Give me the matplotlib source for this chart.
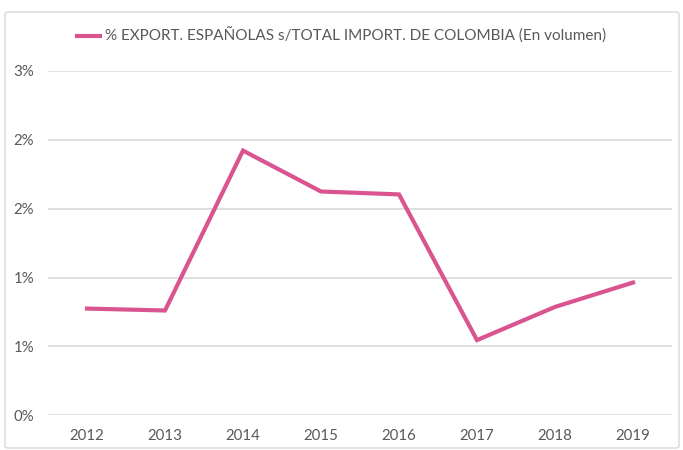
import matplotlib
matplotlib.use("Agg")
import matplotlib.pyplot as plt
from matplotlib.patches import FancyBboxPatch

# data
years = ["2012", "2013", "2014", "2015", "2016", "2017", "2018", "2019"]
share = [0.775, 0.761, 1.922, 1.625, 1.604, 0.546, 0.787, 0.964]  # in %
yticks = [0.0, 0.5, 1.0, 1.5, 2.0, 2.5]
ytick_labels = ["0%", "1%", "1%", "2%", "2%", "3%"]
label = "% EXPORT. ESPAÑOLAS s/TOTAL IMPORT. DE COLOMBIA (En volumen)"

plt.rcParams["font.family"] = ["Lato", "DejaVu Sans"]
txt = "#595959"

fig = plt.figure(figsize=(6.83, 4.5), dpi=100)
ax = fig.add_axes([48 / 683, 1 - 415.3 / 450, 624 / 683, 344.3 / 450])

x = range(len(years))
ax.plot(x, share, color="#DA5590", lw=3, solid_joinstyle="miter", label=label)

ax.set_xlim(-0.5, len(years) - 0.5)
ax.set_ylim(0, 2.5)
ax.set_xticks(list(x))
ax.set_xticklabels(years)
ax.set_yticks(yticks)
ax.set_yticklabels(ytick_labels)
ax.tick_params(length=0, labelsize=10.8, colors=txt, pad=10)
ax.tick_params(axis="y", pad=10)
ax.grid(axis="y", color="#D9D9D9", lw=1.2)
ax.set_axisbelow(True)
for s in ax.spines.values():
    s.set_visible(False)

leg = fig.legend(loc="center", bbox_to_anchor=(0.5, 1 - 36 / 450), frameon=False,
                 fontsize=11, handlelength=1.5, handletextpad=0.3)
for t in leg.get_texts():
    t.set_color(txt)

# chart border
fig.patches.append(FancyBboxPatch((5 / 683, 2 / 450), 674 / 683, 436 / 450,
                                  boxstyle="round,pad=0,rounding_size=0.005",
                                  transform=fig.transFigure, fill=False,
                                  ec="#D9D9D9", lw=1))

fig.savefig("out.png", dpi=100)
